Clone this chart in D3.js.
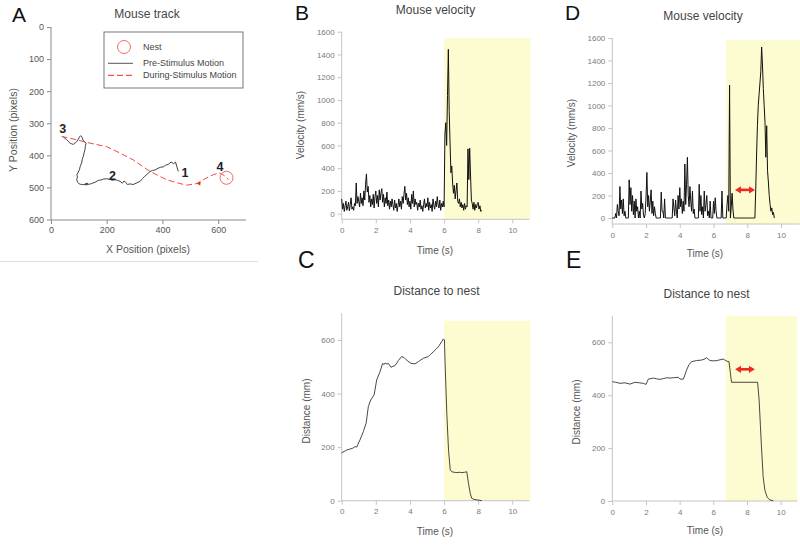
<!DOCTYPE html>
<html><head><meta charset="utf-8">
<script src="https://cdn.jsdelivr.net/npm/d3@7"></script>
<style>body{margin:0;background:#fff}svg{display:block;font-family:"Liberation Sans",Arial,sans-serif}</style>
</head><body>
<svg id="c" width="800" height="545"></svg>
<script>
// ---------------- DATA ----------------
// Panel A: mouse track (pixels)
const trackPre = [[457,450],[452,436],[447,421],[440,426],[431,421],[421,428],[411,431],[403,436],[394,437],[385,440],[373,446],[364,447],[355,451],[346,458],[337,465],[329,472],[320,481],[308,486],[295,491],[284,489],[274,491],[268,484],[262,480],[256,487],[248,481],[239,478],[230,476],[221,478],[212,475],[200,473],[188,474],[179,477],[170,478],[158,484],[146,488],[137,490],[128,491],[132,487],[122,489],[128,492],[118,491],[110,491],[101,489],[96,484],[92,476],[95,468],[93,460],[98,452],[102,445],[105,434],[110,424],[112,413],[116,403],[119,392],[122,382],[123,372],[126,362],[121,358],[118,356],[114,351],[112,345],[110,341],[106,339],[102,343],[98,350],[94,356],[87,361],[80,366],[74,364],[68,362],[62,356],[56,351],[50,347],[44,343]];
const trackDuring = [[38,341],[80,349],[140,362],[200,373],[248,393],[295,414],[355,450],[415,476],[463,488],[487,493],[523,488],[559,470],[583,460],[607,455],[625,465],[637,476]];
const nest = [630, 470];
const trackLabels = [["1",481,455],["2",221,462],["3",42,315],["4",607,436]];
const trackXTicks = [0,200,400,600];
const trackYTicks = [0,100,200,300,400,500,600];

// Panel B: velocity, sampled every 0.05 s
const dtB = 0.05;
const velB = [
 130,40,90,20,70,110,30,60,100,25,80,140,40,60,30,90,70,270,90,150,
 110,60,180,90,140,70,200,120,260,350,190,240,100,160,60,130,80,170,50,150,
 200,90,160,60,210,120,180,220,100,170,60,140,90,190,70,120,40,110,60,130,
 80,30,120,50,90,20,70,130,60,110,40,150,90,170,240,120,180,80,140,60,
 110,40,170,90,200,60,130,80,100,30,90,60,120,40,70,20,80,130,50,90,
 60,140,30,100,50,80,20,130,70,40,110,60,150,80,50,120,30,90,60,110,
 60,700,800,600,1040,1445,900,620,360,420,270,180,250,130,200,270,110,90,130,60,
 100,50,80,30,90,40,70,60,570,300,575,340,120,90,40,100,30,80,50,90,
 100,40,70,20,30];

// Panel D: velocity, sampled every 0.05 s
const dtD = 0.05;
const velD = [
 0,0,0,0,40,0,120,60,20,280,80,160,40,170,20,60,0,0,0,0,
 340,120,270,60,200,30,150,0,170,60,100,0,60,0,240,80,130,20,0,40,
 190,405,100,200,60,150,250,40,150,20,100,40,0,0,0,0,0,0,230,60,
 60,0,170,0,0,0,0,0,0,0,0,0,170,90,20,160,60,0,200,80,
 270,100,170,40,150,60,480,120,300,540,200,100,280,150,60,240,40,80,0,0,
 0,0,0,300,60,200,30,100,0,240,60,120,200,20,60,0,150,0,0,0,
 150,40,180,60,0,0,0,0,0,0,240,0,0,0,0,0,120,200,60,1182,
 0,100,220,80,0,0,0,0,0,0,0,0,0,0,0,0,0,0,0,0,
 0,0,0,0,0,0,0,0,0,0,250,560,820,1000,1100,1200,1300,1520,1360,1150,
 1000,850,540,820,420,320,200,120,60,90,30,50,0];

// Panel C: distance to nest [time s, mm]
const distC = [[0,179],[0.15,184],[0.29,189],[0.49,193],[0.65,196],[0.78,202],[0.88,200],[1.07,227],[1.27,258],[1.43,289],[1.56,351],[1.7,376],[1.9,395],[2.05,451],[2.25,482],[2.4,513],[2.47,508],[2.54,514],[2.65,510],[2.73,513],[2.89,498],[3.0,502],[3.12,504],[3.32,523],[3.51,538],[3.65,535],[3.85,522],[4.06,513],[4.3,511],[4.49,519],[4.65,526],[4.79,532],[5.08,538],[5.22,547],[5.37,556],[5.52,565],[5.67,575],[5.86,594],[5.96,604],[6.02,600],[6.06,513],[6.16,326],[6.26,189],[6.36,115],[6.45,108],[6.6,106],[6.75,105],[6.9,106],[7.04,105],[7.2,106],[7.33,108],[7.43,65],[7.53,28],[7.62,9],[7.75,5],[7.92,3],[8.05,2],[8.21,0]];

// Panel E: distance to nest [time s, mm]
const distE = [[0,451],[0.2,449],[0.46,445],[0.75,447],[1.05,442],[1.35,449],[1.6,447],[1.84,445],[2.0,441],[2.14,461],[2.3,463],[2.44,465],[2.63,462],[2.83,460],[3.03,463],[3.23,466],[3.43,465],[3.62,466],[3.92,468],[4.02,461],[4.22,461],[4.32,478],[4.41,495],[4.55,515],[4.71,527],[5.0,531],[5.3,533],[5.45,536],[5.6,542],[5.8,531],[6.0,530],[6.2,531],[6.4,534],[6.59,537],[6.79,529],[6.93,527],[7.03,476],[7.08,449],[7.58,449],[8.17,449],[8.63,449],[8.72,382],[8.8,281],[8.86,205],[8.96,92],[9.06,42],[9.2,14],[9.36,4],[9.56,1]];

const timeTicks = [0,2,4,6,8,10];
const velTicks = [0,200,400,600,800,1000,1200,1400,1600];
const distTicks = [0,200,400,600];
// stimulus windows [start, end] (s)
const stimB = [6, 11.07];
const stimD = [6.75, 11.12];
const stimC = [6, 11.07];
const stimE = [6.73, 10.98];
// delay arrows [t1, t2, value]
const arrowD = [7.27, 8.46, 250];
const arrowE = [7.29, 8.47, 498];

// ---------------- DRAW ----------------
const FONT = '"Liberation Sans", Arial, sans-serif';
const RED = '#ee2a24';
const YEL = '#fdfbd0';
const svg = d3.select('#c');
const fmt = d3.format('d');

function txt(g, x, y, s, o = {}) {
  const t = g.append('text').attr('x', x).attr('y', y).text(s)
    .attr('font-family', FONT).attr('font-size', o.fs || 10)
    .attr('fill', o.fill || '#444').attr('text-anchor', o.anchor || 'middle');
  if (o.weight) t.attr('font-weight', o.weight);
  if (o.rot) t.attr('transform', `rotate(-90,${x},${y})`);
  return t;
}
function styleAxis(g, fs, col, lineCol) {
  g.attr('font-family', FONT).attr('font-size', fs);
  g.select('.domain').remove();
  g.selectAll('.tick line').attr('stroke', lineCol);
  g.selectAll('.tick text').attr('fill', col);
}
function vline(g, x, y1, y2, c) { g.append('line').attr('x1', x).attr('x2', x).attr('y1', y1).attr('y2', y2).attr('stroke', c).attr('stroke-width', 1); }
function hline(g, y, x1, x2, c) { g.append('line').attr('x1', x1).attr('x2', x2).attr('y1', y).attr('y2', y).attr('stroke', c).attr('stroke-width', 1); }

// Panel letters
[['A', 12, 22, 21], ['B', 295, 19.5, 21], ['D', 565, 19.5, 21], ['C', 298, 268, 23], ['E', 566, 268, 23]]
  .forEach(([s, x, y, fs]) => txt(svg, x, y, s, { fs, fill: '#111', anchor: 'start' }));

// ---- Panel A ----
(function () {
  const g = svg.append('g');
  const x = d3.scaleLinear().domain([0, 700]).range([51, 246]);
  const y = d3.scaleLinear().domain([0, 600]).range([27, 219.5]);
  const axisCol = '#8a8a8a';
  g.append('g').attr('transform', 'translate(51,0)')
    .call(d3.axisLeft(y).tickValues(trackYTicks).tickFormat(fmt).tickSize(4).tickSizeOuter(0))
    .call(styleAxis, 9, '#555', axisCol);
  g.append('g').attr('transform', 'translate(0,220)')
    .call(d3.axisBottom(x).tickValues(trackXTicks).tickFormat(fmt).tickSize(4).tickSizeOuter(0))
    .call(styleAxis, 9, '#555', axisCol);
  vline(g, 51, y(0), 220, axisCol);
  hline(g, 220, x(0), x(700), axisCol);
  txt(g, 147, 17.5, 'Mouse track', { fs: 12, fill: '#444' });
  txt(g, 148, 253, 'X Position (pixels)', { fs: 10.5, fill: '#555' });
  txt(g, 17, 130, 'Y Position (pixels)', { fs: 10.5, fill: '#555', rot: true });

  const line = d3.line().x(d => x(d[0])).y(d => y(d[1]));
  g.append('path').attr('d', line(trackPre)).attr('fill', 'none').attr('stroke', '#444').attr('stroke-width', 1).attr('stroke-linejoin', 'round');
  g.append('path').attr('d', line(trackDuring)).attr('fill', 'none').attr('stroke', RED).attr('stroke-width', 1).attr('stroke-dasharray', '6,3').attr('opacity', 0.85);
  // direction arrowhead
  const ah = trackDuring[10];
  const ax0 = x(ah[0]), ay0 = y(ah[1]);
  g.append('path').attr('d', `M${ax0},${ay0}L${ax0 + 4},${ay0 - 2.2}L${ax0 + 3.5},${ay0 + 2}Z`).attr('fill', RED);
  // nest circle
  g.append('circle').attr('cx', x(nest[0])).attr('cy', y(nest[1])).attr('r', 6.5).attr('fill', 'none').attr('stroke', '#f06a6a').attr('stroke-width', 1);
  trackLabels.forEach(([s, a, b]) => txt(g, x(a), y(b) + 4.5, s, { fs: 12.5, fill: '#222', weight: 'bold' }));

  // legend
  g.append('rect').attr('x', 104).attr('y', 32).attr('width', 139).attr('height', 56).attr('fill', '#fff').attr('stroke', '#555').attr('stroke-width', 0.8);
  g.append('circle').attr('cx', 124).attr('cy', 47).attr('r', 6.5).attr('fill', 'none').attr('stroke', '#f06a6a').attr('stroke-width', 1);
  txt(g, 143, 50, 'Nest', { fs: 9, fill: '#444', anchor: 'start' });
  hline(g, 63.3, 108, 133, '#555');
  txt(g, 143, 66.3, 'Pre-Stimulus Motion', { fs: 9, fill: '#444', anchor: 'start' });
  g.append('line').attr('x1', 108).attr('x2', 133).attr('y1', 75.3).attr('y2', 75.3).attr('stroke', RED).attr('stroke-dasharray', '6,3').attr('stroke-width', 1);
  txt(g, 143, 78.3, 'During-Stimulus Motion', { fs: 9, fill: '#444', anchor: 'start' });
  // separator
  hline(g, 261.5, 0, 258, '#ddd');
})();

// ---- Time panels ----
function timePanel(o) {
  const g = svg.append('g');
  const x = d3.scaleLinear().domain(o.xDom).range(o.xRange);
  const y = d3.scaleLinear().domain(o.yDom).range(o.yRange);
  const axisCol = '#c4c4c4';
  // stimulus shading
  g.append('rect').attr('x', x(o.stim[0])).attr('width', x(o.stim[1]) - x(o.stim[0]))
    .attr('y', y(o.stimTop)).attr('height', o.xAxisY - y(o.stimTop)).attr('fill', YEL);
  g.append('g').attr('transform', `translate(${o.xRange[0]},0)`)
    .call(d3.axisLeft(y).tickValues(o.yTicks).tickFormat(fmt).tickSize(4).tickSizeOuter(0).tickPadding(3))
    .call(styleAxis, 8, '#7a7a7a', axisCol);
  g.append('g').attr('transform', `translate(0,${o.xAxisY})`)
    .call(d3.axisBottom(x).tickValues(timeTicks).tickFormat(fmt).tickSize(4).tickSizeOuter(0).tickPadding(4))
    .call(styleAxis, 8, '#7a7a7a', axisCol);
  vline(g, o.xRange[0], o.yRange[1], o.xAxisY, axisCol);
  hline(g, o.xAxisY, o.xRange[0], o.xRange[1], axisCol);
  // data
  const line = d3.line().x(d => x(d[0])).y(d => y(d[1]));
  g.append('path').attr('d', line(o.data)).attr('fill', 'none').attr('stroke', o.stroke).attr('stroke-width', o.sw).attr('stroke-linejoin', 'round');
  // labels
  txt(g, o.title[1], o.title[2], o.title[0], { fs: 12, fill: '#444' });
  txt(g, o.xLab[1], o.xLab[2], 'Time (s)', { fs: 10, fill: '#555' });
  txt(g, o.yLab[1], o.yLab[2], o.yLab[0], { fs: 10, fill: '#555', rot: true });
  if (o.arrow) {
    const x1 = x(o.arrow[0]), x2 = x(o.arrow[1]), yy = y(o.arrow[2]), h = 6, w = 3.6;
    g.append('line').attr('x1', x1 + h - 1).attr('x2', x2 - h + 1).attr('y1', yy).attr('y2', yy).attr('stroke', RED).attr('stroke-width', 2.6);
    g.append('path').attr('d', `M${x1},${yy}L${x1 + h},${yy - w}L${x1 + h},${yy + w}Z M${x2},${yy}L${x2 - h},${yy - w}L${x2 - h},${yy + w}Z`).attr('fill', RED);
  }
}

timePanel({
  xDom: [0, 11], xRange: [341.7, 529.4], yDom: [0, 1600], yRange: [213.7, 31.7], xAxisY: 219.3,
  yTicks: velTicks, stim: stimB, stimTop: 1542,
  data: velB.map((v, i) => [i * dtB, v]), stroke: '#111', sw: 1,
  title: ['Mouse velocity', 435.5, 13.5], xLab: ['', 435, 253.5], yLab: ['Velocity (mm/s)', 303.5, 125]
});
timePanel({
  xDom: [0, 11.1], xRange: [612.3, 799.6], yDom: [0, 1600], yRange: [218, 38], xAxisY: 224,
  yTicks: velTicks, stim: stimD, stimTop: 1582,
  data: velD.map((v, i) => [i * dtD, v]), stroke: '#111', sw: 1,
  title: ['Mouse velocity', 703, 20], xLab: ['', 705, 257], yLab: ['Velocity (mm/s)', 575, 133], arrow: arrowD
});
timePanel({
  xDom: [0, 11], xRange: [341.7, 529.4], yDom: [0, 700], yRange: [500.7, 313.2], xAxisY: 500.7,
  yTicks: distTicks, stim: stimC, stimTop: 672,
  data: distC, stroke: '#333', sw: 0.9,
  title: ['Distance to nest', 436.5, 295], xLab: ['', 435, 535], yLab: ['Distance (mm)', 309.5, 411]
});
timePanel({
  xDom: [0, 11], xRange: [612.3, 797.5], yDom: [0, 700], yRange: [501, 315.9], xAxisY: 501,
  yTicks: distTicks, stim: stimE, stimTop: 700,
  data: distE, stroke: '#333', sw: 0.9,
  title: ['Distance to nest', 706.5, 298], xLab: ['', 705, 534], yLab: ['Distance (mm)', 580, 412], arrow: arrowE
});
</script>
</body></html>
